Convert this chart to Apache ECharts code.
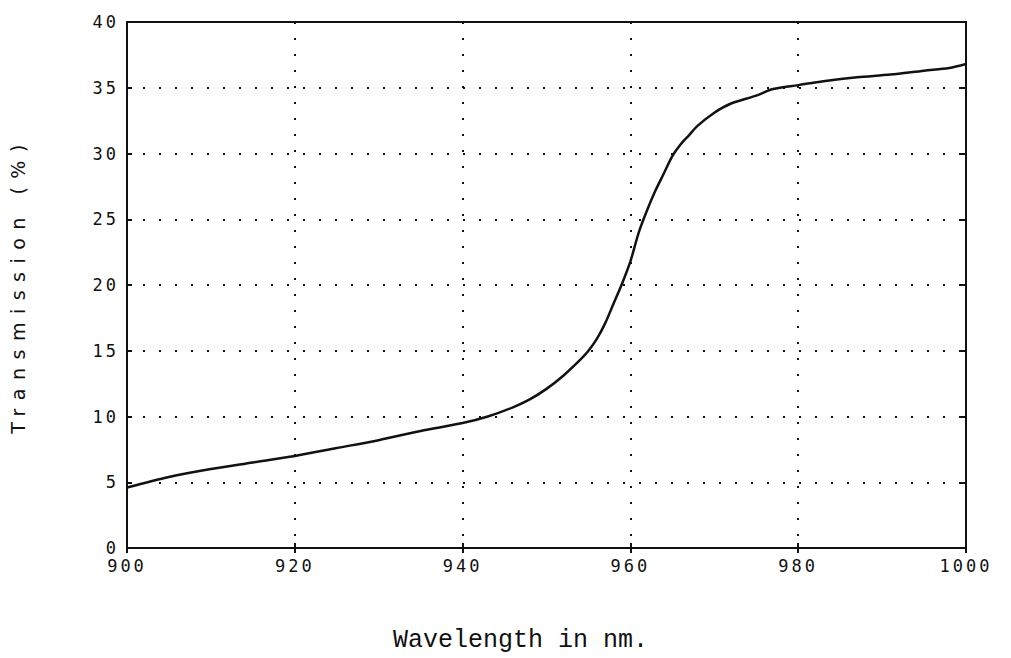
<!DOCTYPE html>
<html>
<head>
<meta charset="utf-8">
<script src="https://cdn.jsdelivr.net/npm/echarts@6/dist/echarts.min.js"></script>
<style>
    html, body { margin: 0; padding: 0; background: #fff; }
    #chart { width: 1011px; height: 658px; }
    /* plotter style spacing for tick labels and the y title */
    #chart text[style*="DejaVu Sans Mono"] { letter-spacing: 3px; }
    #chart text[style*="DejaVu Sans;"], #chart text[style*="DejaVu Sans\""] { letter-spacing: 8.5px; }
</style>
</head>
<body>
<div id="chart"></div>
<script>
// wavelength (nm) and transmission (%)
const wavelength = [900, 905, 910, 915, 920, 925, 930, 935, 940, 943, 946, 948, 950, 952, 954, 955, 956, 957, 958, 959, 960, 961, 962, 963, 964, 965, 966, 967, 968, 970, 972, 975, 977, 980, 983, 987, 991, 995, 998, 1000];
const transmission = [4.6, 5.4, 6.0, 6.5, 7.0, 7.6, 8.2, 8.9, 9.5, 10.0, 10.7, 11.3, 12.1, 13.1, 14.3, 15.0, 15.9, 17.1, 18.6, 20.1, 21.8, 24.0, 25.7, 27.2, 28.5, 29.8, 30.7, 31.4, 32.1, 33.1, 33.8, 34.4, 34.9, 35.2, 35.5, 35.8, 36.0, 36.3, 36.5, 36.8];

const xTicks = [900, 920, 940, 960, 980, 1000];
const yTicks = [0, 5, 10, 15, 20, 25, 30, 35, 40];

var chartDom = document.getElementById('chart');
var chart = echarts.init(chartDom, null, { renderer: 'svg' });

var points = wavelength.map((w, i) => [w, transmission[i]]);

var tickFont = {
    color: '#111',
    fontFamily: 'DejaVu Sans Mono',
    fontSize: 17,
    lineHeight: 14,
    formatter: v => String(v)
};

var dotted = {
    show: true,
    lineStyle: { color: '#111', width: 2, type: [2, 14] }
};

var option = {
    animation: false,
    backgroundColor: '#fff',
    grid: {
        left: 126,
        right: 45,
        top: 22,
        bottom: 106,
        show: true,
        borderColor: '#111',
        borderWidth: 2
    },
    xAxis: [
        {
            type: 'value',
            min: xTicks[0],
            max: xTicks[xTicks.length - 1],
            interval: 20,
            name: 'Wavelength in nm.',
            nameLocation: 'middle',
            nameGap: 80,
            nameTextStyle: {
                color: '#111',
                fontFamily: 'Liberation Mono',
                fontSize: 25,
                padding: [0, 52, 0, 0]
            },
            axisLine: { show: true, onZero: false, lineStyle: { color: '#111', width: 2 } },
            axisTick: { show: true, inside: true, length: 5, lineStyle: { color: '#111', width: 2 } },
            axisLabel: Object.assign({ margin: 11 }, tickFont),
            splitLine: dotted
        },
        {
            type: 'value',
            position: 'top',
            min: xTicks[0],
            max: xTicks[xTicks.length - 1],
            interval: 20,
            axisLine: { show: true, lineStyle: { color: '#111', width: 2 } },
            axisTick: { show: true, inside: true, length: 5, lineStyle: { color: '#111', width: 2 } },
            axisLabel: { show: false },
            splitLine: { show: false }
        }
    ],
    yAxis: [
        {
            type: 'value',
            min: yTicks[0],
            max: yTicks[yTicks.length - 1],
            interval: 5,
            name: 'Transmission (%)',
            nameLocation: 'middle',
            nameGap: 100,
            nameTextStyle: {
                color: '#111',
                fontFamily: 'DejaVu Sans',
                fontSize: 19
            },
            axisLine: { show: true, onZero: false, lineStyle: { color: '#111', width: 2 } },
            axisTick: { show: true, inside: true, length: 5, lineStyle: { color: '#111', width: 2 } },
            axisLabel: Object.assign({ margin: 8 }, tickFont),
            splitLine: dotted
        },
        {
            type: 'value',
            position: 'right',
            min: yTicks[0],
            max: yTicks[yTicks.length - 1],
            interval: 5,
            axisLine: { show: true, lineStyle: { color: '#111', width: 2 } },
            axisTick: { show: true, inside: true, length: 5, lineStyle: { color: '#111', width: 2 } },
            axisLabel: { show: false },
            splitLine: { show: false }
        }
    ],
    series: [
        {
            name: 'Transmission',
            type: 'line',
            data: points,
            smooth: 0.3,
            symbol: 'none',
            lineStyle: { color: '#111', width: 2.5 }
        }
    ]
};

chart.setOption(option);
</script>
</body>
</html>
